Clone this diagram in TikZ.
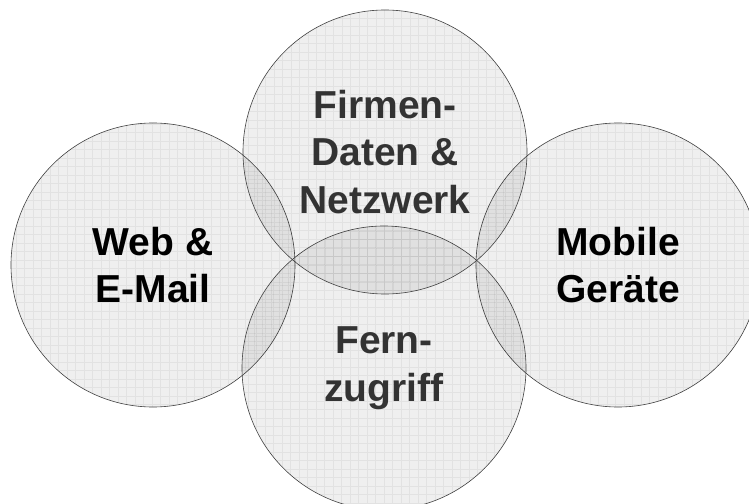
\documentclass[tikz,border=0pt]{standalone}
\usepackage{fontspec}
\setmainfont{Liberation Sans}
\begin{document}
\begin{tikzpicture}[x=1bp,y=-1bp,
  setcircle/.style={circle, inner sep=0pt, outer sep=0pt, minimum size=284bp,
    fill=black, fill opacity=0.062, text opacity=1, draw=black!75, draw opacity=1, line width=0.6bp,
    align=center, font=\fontsize{39bp}{47.5bp}\selectfont\bfseries,
    path picture={\draw[black, draw opacity=0.05, line width=0.5bp, step=8.5bp]
      (path picture bounding box.south west) grid (path picture bounding box.north east);}},
  darktext/.style={text=black!80},
  blacktext/.style={text=black}]
\useasboundingbox[fill=white] (0,0) rectangle (749,504);
\node[setcircle, blacktext] (web) at (153,265) {Web \&\\E-Mail};
\node[setcircle, blacktext] (mobile) at (618,265) {Mobile\\Geräte};
\node[setcircle, darktext] (fern) at (384,368) {Fern-\\zugriff};
\node[setcircle, darktext] (firmen) at (385,152) {Firmen-\\Daten \&\\Netzwerk};
\end{tikzpicture}
\end{document}
